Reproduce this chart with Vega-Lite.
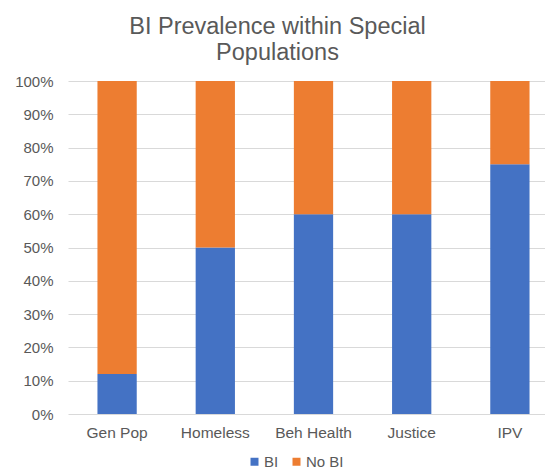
{
  "$schema": "https://vega.github.io/schema/vega-lite/v6.json",
  "width": 477,
  "height": 333,
  "padding": {"left": 68, "top": 81, "right": 0, "bottom": 55},
  "autosize": {"type": "none"},
  "background": "white",
  "config": {
    "view": {"stroke": null},
    "font": "Liberation Sans"
  },
  "title": {
    "text": ["BI Prevalence within Special", "Populations"],
    "fontSize": 23.5,
    "font": "Liberation Sans",
    "fontWeight": "normal",
    "color": "#595959",
    "lineHeight": 26,
    "anchor": "middle",
    "dx": -29,
    "offset": 10
  },
  "data": {
    "values": [
      {"pop": "Gen Pop", "cat": "BI", "v": 12},
      {"pop": "Gen Pop", "cat": "No BI", "v": 88},
      {"pop": "Homeless", "cat": "BI", "v": 50},
      {"pop": "Homeless", "cat": "No BI", "v": 50},
      {"pop": "Beh Health", "cat": "BI", "v": 60},
      {"pop": "Beh Health", "cat": "No BI", "v": 40},
      {"pop": "Justice", "cat": "BI", "v": 60},
      {"pop": "Justice", "cat": "No BI", "v": 40},
      {"pop": "IPV", "cat": "BI", "v": 75},
      {"pop": "IPV", "cat": "No BI", "v": 25}
    ]
  },
  "mark": {"type": "bar"},
  "encoding": {
    "x": {
      "field": "pop",
      "type": "nominal",
      "sort": ["Gen Pop", "Homeless", "Beh Health", "Justice", "IPV"],
      "scale": {"range": [0, 491], "paddingInner": 0.6, "paddingOuter": 0.3},
      "axis": {
        "title": null,
        "labelAngle": 0,
        "labelFontSize": 15.5,
        "labelColor": "#595959",
        "labelPadding": 11,
        "ticks": false,
        "domain": false,
        "grid": false
      }
    },
    "y": {
      "field": "v",
      "type": "quantitative",
      "stack": "normalize",
      "scale": {"domain": [0, 1], "nice": false},
      "axis": {
        "title": null,
        "format": "%",
        "values": [0, 0.1, 0.2, 0.3, 0.4, 0.5, 0.6, 0.7, 0.8, 0.9, 1],
        "labelFontSize": 15,
        "labelColor": "#595959",
        "labelPadding": 15,
        "ticks": false,
        "domain": false,
        "grid": true,
        "gridColor": "#d9d9d9",
        "gridWidth": 1
      }
    },
    "color": {
      "field": "cat",
      "type": "nominal",
      "scale": {"domain": ["BI", "No BI"], "range": ["#4472C4", "#ED7D31"]},
      "legend": {
        "title": null,
        "orient": "none",
        "direction": "horizontal",
        "legendX": 179,
        "legendY": 373,
        "symbolType": "square",
        "symbolSize": 64,
        "symbolStrokeWidth": 0,
        "labelFontSize": 15,
        "labelColor": "#595959",
        "labelOffset": 2,
        "columnPadding": 10
      }
    },
    "order": {"field": "cat", "sort": "ascending"}
  }
}
